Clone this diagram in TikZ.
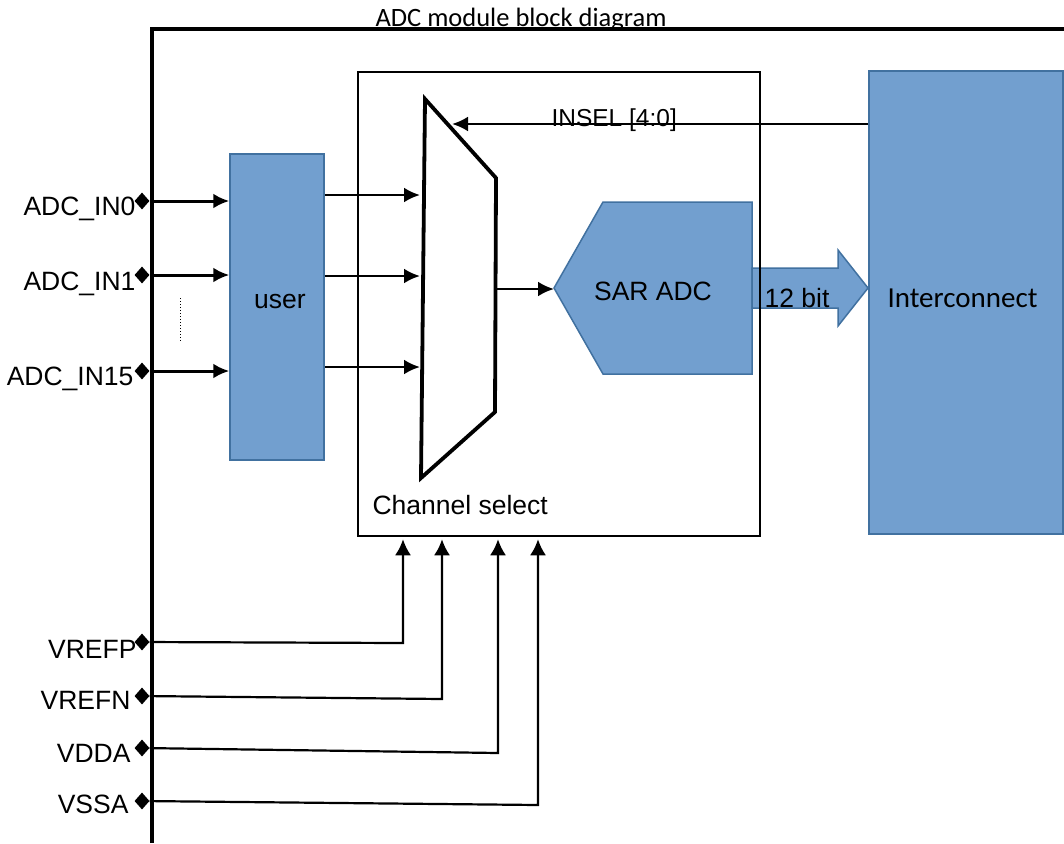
\documentclass[tikz,border=0pt]{standalone}
\usepackage{fontspec}
\setmainfont{Liberation Sans}
\newfontfamily\calfont{Carlito}
\usepackage{tikz}
\usetikzlibrary{shapes.geometric}
\usetikzlibrary{arrows.meta}
\definecolor{blkfill}{RGB}{114,159,207}
\definecolor{blkline}{RGB}{65,113,160}

\begin{document}
\begin{tikzpicture}[x=1pt, y=-1pt,
	font=\fontsize{26.5}{30}\selectfont,
	blk/.style={draw=blkline, fill=blkfill, line width=1.5pt},
	pin/.style={shape=diamond, fill=black, inner sep=0pt, minimum width=15pt, minimum height=17pt},
	wire/.style={line width=3pt, -{Latex[length=16pt,width=15pt]}},
	pwr/.style={line width=2.2pt, -{Latex[length=16pt,width=16pt]}},
	lbl/.style={anchor=base east}]
				\useasboundingbox[fill=white] (0,0) rectangle (1064,843);
				% Paths, nodes and wires:
				\draw[line width=3.8pt] (152,843) -- (152,29) -- (1064,29);
				\node[anchor=base, font=\calfont\fontsize{26.5}{30}\selectfont](title) at (521,27){ADC module block diagram};
				\node[blk, minimum width=94pt, minimum height=306pt](user) at (277,307){} node[anchor=base] at (280,308){user};
				\node[blk, minimum width=194pt, minimum height=463pt](ic) at (966,302.5){} node[anchor=base west, font=\calfont\fontsize{29}{32}\selectfont] at (884,307){Interconnect};
				\draw[blk] (554,288) coordinate (sarin) -- (603,202) -- (752,202) -- (752,374) -- (603,374) -- cycle;
				\node[anchor=base](sar) at (653,300){SAR ADC};
				\draw[blk] (752,268) -- (838,268) -- (838,250) -- (868,288) -- (838,326) -- (838,308) -- (752,308) -- cycle;
				\node[anchor=base](bits) at (797,307){12 bit};
				\node[draw, line width=1.5pt, inner sep=0pt, minimum width=402pt, minimum height=464pt](cs) at (559,304){};
				\node[anchor=base west](cstext) at (369,514){Channel select};
				% multiplexer
				\draw[line width=3.8pt] (425,99) coordinate (m1) -- (496,178) coordinate (m2) -- (495,412) coordinate (m3) -- (421,478) coordinate (m4) -- cycle;
				\coordinate (selin) at (452,124);
				\draw[wire, line width=2.7pt] (selin -| ic.west) -- (selin);
				\node[anchor=base west, font=\fontsize{24.5}{28}\selectfont](insel) at (548,126){INSEL [4:0]};
				\coordinate (mout) at (496,289);
				\draw[wire, line width=2.7pt] (mout) -- (mout -| sarin);
				\coordinate (mi0) at (420,195);
				\coordinate (mi1) at (420,276);
				\coordinate (mi2) at (420,367);
				\foreach \m in {mi0,mi1,mi2}
					\draw[wire, line width=2.7pt] (user.east |- \m) -- (\m);
				% analog inputs
				\node[lbl](t0) at (139,215){ADC\_IN0};
				\node[lbl](t1) at (139,290){ADC\_IN1};
				\node[lbl](t15) at (137,385){ADC\_IN15};
				\node[pin](in0) at (142,201){};
				\node[pin](in1) at (142,275){};
				\node[pin](in15) at (142,371){};
				\foreach \p in {in0,in1,in15}
					\draw[wire] (\p) -- (\p -| user.west);
				\draw[dotted, line width=1pt] (180,298) -- (180,342);
				% supply pins
				\node[lbl](tp) at (140,658){VREFP};
				\node[lbl](tn) at (134,709){VREFN};
				\node[lbl](td) at (134,762){VDDA};
				\node[lbl](ts) at (132,813){VSSA};
				\node[pin](vrefp) at (142,642){};
				\node[pin](vrefn) at (142,696){};
				\node[pin](vdda) at (142,748){};
				\node[pin](vssa) at (142,801){};
				\coordinate (k1) at (403,643);
				\coordinate (k2) at (442,699);
				\coordinate (k3) at (498,753);
				\coordinate (k4) at (538,805);
				\draw[pwr, shorten >=2.5pt] (vrefp) -- (k1) -- (k1 |- cs.south);
				\draw[pwr, shorten >=2.5pt] (vrefn) -- (k2) -- (k2 |- cs.south);
				\draw[pwr, shorten >=2.5pt] (vdda) -- (k3) -- (k3 |- cs.south);
				\draw[pwr, shorten >=2.5pt] (vssa) -- (k4) -- (k4 |- cs.south);
			\end{tikzpicture}
\end{document}
